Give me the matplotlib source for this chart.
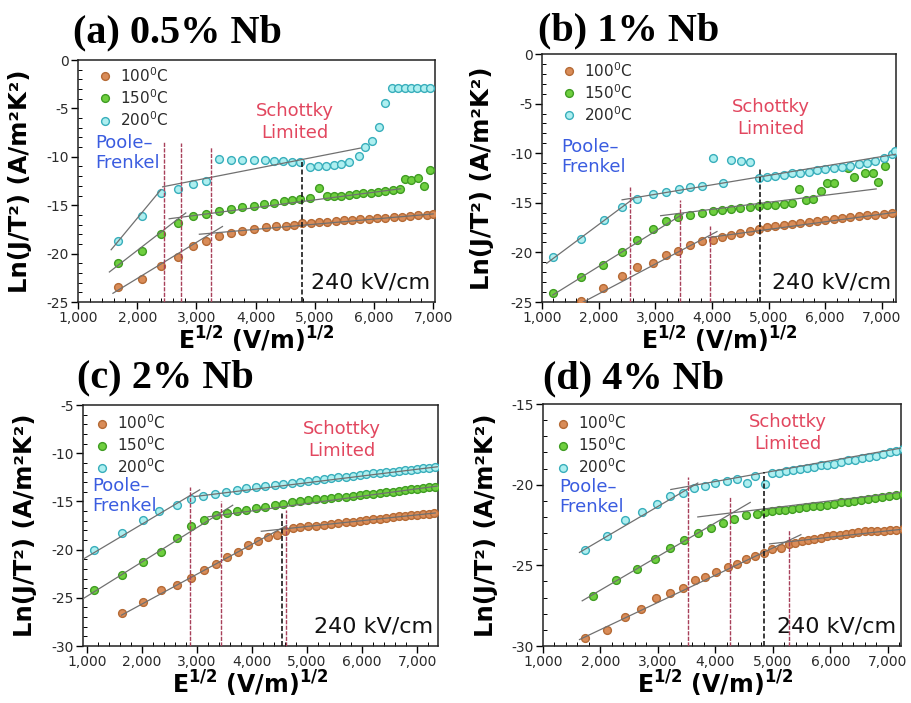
import matplotlib
matplotlib.use('Agg')
import matplotlib.pyplot as plt
from matplotlib.ticker import MultipleLocator, FuncFormatter

plt.rcParams['font.family'] = ['DejaVu Sans']
plt.rcParams['axes.unicode_minus'] = False
plt.rcParams['mathtext.fontset'] = 'dejavusans'

# ---------------- data ----------------
series_labels = [r'100$^{0}$C', r'150$^{0}$C', r'200$^{0}$C']
panel_titles = ['(a) 0.5% Nb', '(b) 1% Nb', '(c) 2% Nb', '(d) 4% Nb']
x_ticks = [1000, 2000, 3000, 4000, 5000, 6000, 7000]

# (a) 0.5% Nb
a_x100 = [1673, 2077, 2402, 2683, 2935, 3170, 3384, 3591, 3776, 3972, 4169, 4337, 4505, 4645, 4786, 4930,
          5070, 5210, 5350, 5490, 5630, 5770, 5910, 6050, 6190, 6330, 6470, 6610, 6750, 6890, 6990]
a_y100 = [-23.5, -22.6, -21.3, -20.3, -19.2, -18.7, -18.2, -17.9, -17.7, -17.45, -17.3, -17.2, -17.1, -17.0,
          -16.85, -16.8, -16.75, -16.7, -16.6, -16.55, -16.5, -16.45, -16.4, -16.35, -16.3, -16.25, -16.2,
          -16.15, -16.05, -16.0, -15.95]
a_x150 = [1684, 2077, 2402, 2683, 2935, 3170, 3384, 3591, 3776, 3972, 4141, 4309, 4477, 4617, 4758, 4926,
          5067, 5207, 5330, 5450, 5575, 5700, 5820, 5945, 6070, 6190, 6315, 6440, 6524, 6630, 6748, 6849, 6944]
a_y150 = [-21.0, -19.7, -18.0, -16.8, -16.1, -15.9, -15.6, -15.4, -15.2, -15.05, -14.9, -14.75, -14.6, -14.5,
          -14.4, -14.3, -13.2, -14.1, -14.05, -14.0, -13.9, -13.85, -13.75, -13.7, -13.6, -13.5, -13.4, -13.3,
          -12.3, -12.4, -12.2, -13.0, -11.4]
a_x200 = [1673, 2077, 2402, 2683, 2935, 3170, 3384, 3591, 3776, 3972, 4152, 4309, 4466, 4617, 4758, 4927,
          5060, 5190, 5320, 5450, 5580, 5739, 5851, 5963, 6076, 6188, 6300, 6410, 6520, 6620, 6730, 6840, 6944]
a_y200 = [-18.7, -16.1, -13.7, -13.3, -12.8, -12.5, -10.2, -10.3, -10.3, -10.3, -10.35, -10.4, -10.45, -10.5,
          -10.55, -11.1, -11.0, -10.9, -10.8, -10.7, -10.5, -9.9, -9.0, -8.4, -6.9, -4.4, -2.85, -2.85, -2.85,
          -2.85, -2.85, -2.85, -2.85]
a_fit_x100 = [[1590, 3440], [3050, 7000]]
a_fit_y100 = [[-24.1, -17.2], [-18.0, -15.9]]
a_fit_x150 = [[1530, 2820], [2540, 6450]]
a_fit_y150 = [[-21.9, -15.8], [-16.4, -13.3]]
a_fit_x200 = [[1560, 2400], [2430, 5770]]
a_fit_y200 = [[-19.6, -13.4], [-13.1, -9.1]]
a_red_x = [2447, 2744, 3249]
a_red_top = [-8.4, -8.6, -9.0]
a_blk_x = [4786]
a_blk_top = [-10.4]

# (b) 1% Nb
b_x100 = [1692, 2077, 2414, 2686, 2953, 3189, 3408, 3615, 3822, 4018, 4178, 4337, 4503, 4669, 4828, 4975,
          5122, 5269, 5416, 5563, 5710, 5857, 6004, 6151, 6298, 6445, 6592, 6739, 6886, 7033, 7180]
b_y100 = [-24.9, -23.6, -22.4, -21.5, -21.1, -20.3, -19.9, -19.3, -18.9, -18.7, -18.4, -18.2, -18.0, -17.8,
          -17.6, -17.45, -17.35, -17.2, -17.1, -17.0, -16.9, -16.8, -16.7, -16.6, -16.5, -16.4, -16.35, -16.25,
          -16.2, -16.1, -16.05]
b_x150 = [1201, 1692, 2077, 2414, 2686, 2964, 3189, 3408, 3615, 3822, 4018, 4178, 4337, 4503, 4669, 4828,
          4975, 5122, 5269, 5416, 5538, 5657, 5793, 5923, 6030, 6160, 6396, 6503, 6704, 6840, 6941, 7047]
b_y150 = [-24.1, -22.5, -21.3, -20.0, -18.7, -17.6, -16.8, -16.4, -16.2, -16.0, -15.8, -15.7, -15.6, -15.5,
          -15.4, -15.3, -15.25, -15.2, -15.1, -15.05, -13.6, -14.7, -14.6, -13.8, -13.0, -13.0, -11.5, -12.4,
          -12.0, -12.0, -12.9, -11.3]
b_x200 = [1189, 1692, 2089, 2414, 2686, 2953, 3189, 3426, 3615, 3822, 4012, 4189, 4337, 4515, 4680, 4828,
          4975, 5122, 5269, 5416, 5563, 5710, 5857, 6004, 6151, 6298, 6445, 6592, 6739, 6886, 7033, 7180, 7240]
b_y200 = [-20.5, -18.6, -16.7, -15.4, -14.6, -14.1, -13.9, -13.6, -13.4, -13.3, -10.5, -13.0, -10.7, -10.8,
          -10.9, -12.5, -12.4, -12.3, -12.2, -12.0, -11.95, -11.85, -11.7, -11.6, -11.5, -11.4, -11.3, -11.1,
          -11.0, -10.8, -10.5, -10.1, -9.8]
b_fit_x100 = [[1663, 4089], [3940, 7250]]
b_fit_y100 = [[-25.2, -17.9], [-18.5, -15.95]]
b_fit_x150 = [[1189, 3497], [3095, 6900]]
b_fit_y150 = [[-24.3, -16.1], [-16.3, -13.6]]
b_fit_x200 = [[1083, 2609], [2414, 7250]]
b_fit_y200 = [[-21.1, -14.6], [-14.7, -10.1]]
b_red_x = [2550, 3438, 3959]
b_red_top = [-13.4, -14.7, -17.3]
b_blk_x = [4846]
b_blk_top = [-11.6]

# (c) 2% Nb
c_x100 = [1630, 2024, 2345, 2630, 2885, 3127, 3345, 3552, 3752, 3933, 4115, 4297, 4448, 4600, 4752, 4875,
          5020, 5160, 5300, 5435, 5570, 5700, 5830, 5955, 6080, 6200, 6320, 6440, 6555, 6670, 6785, 6895,
          7005, 7115, 7225, 7300]
c_y100 = [-26.6, -25.4, -24.2, -23.7, -22.9, -22.1, -21.5, -20.8, -20.2, -19.5, -19.1, -18.7, -18.5, -18.1,
          -17.8, -17.65, -17.55, -17.5, -17.4, -17.3, -17.25, -17.15, -17.1, -17.0, -16.95, -16.85, -16.8,
          -16.7, -16.65, -16.55, -16.5, -16.45, -16.4, -16.35, -16.3, -16.25]
c_x150 = [1133, 1630, 2024, 2345, 2630, 2885, 3127, 3345, 3539, 3733, 3900, 4075, 4245, 4410, 4570, 4725,
          4875, 5020, 5160, 5300, 5435, 5570, 5700, 5830, 5955, 6080, 6200, 6320, 6440, 6555, 6670, 6785,
          6895, 7005, 7115, 7225, 7330]
c_y150 = [-24.2, -22.6, -21.3, -20.2, -18.8, -17.6, -16.9, -16.4, -16.2, -16.0, -15.85, -15.7, -15.55, -15.4,
          -15.25, -15.1, -15.0, -14.9, -14.8, -14.7, -14.65, -14.55, -14.5, -14.4, -14.35, -14.25, -14.2,
          -14.1, -14.05, -14.0, -13.9, -13.85, -13.75, -13.7, -13.6, -13.55, -13.5]
c_x200 = [1133, 1630, 2024, 2315, 2630, 2885, 3115, 3327, 3527, 3721, 3900, 4075, 4245, 4410, 4570, 4725,
          4875, 5020, 5160, 5300, 5435, 5570, 5700, 5830, 5955, 6080, 6200, 6320, 6440, 6555, 6670, 6785,
          6895, 7005, 7115, 7225, 7330]
c_y200 = [-20.05, -18.3, -16.9, -16.0, -15.4, -14.8, -14.4, -14.2, -14.0, -13.8, -13.65, -13.5, -13.4, -13.3,
          -13.2, -13.05, -12.95, -12.85, -12.8, -12.7, -12.6, -12.5, -12.45, -12.35, -12.3, -12.2, -12.1,
          -12.05, -12.0, -11.9, -11.85, -11.75, -11.7, -11.6, -11.55, -11.5, -11.45]
c_fit_x100 = [[1630, 4630], [4170, 7330]]
c_fit_y100 = [[-26.8, -17.5], [-18.1, -16.2]]
c_fit_x150 = [[930, 3650], [3200, 7380]]
c_fit_y150 = [[-25.1, -15.4], [-16.6, -13.4]]
c_fit_x200 = [[930, 3050], [2950, 7380]]
c_fit_y200 = [[-21.0, -13.8], [-14.5, -11.4]]
c_red_x = [2878, 3431, 4613]
c_red_top = [-13.5, -15.0, -15.9]
c_blk_x = [4545]
c_blk_top = [-16.1]

# (d) 4% Nb
d_x100 = [1724, 2106, 2429, 2712, 2971, 3212, 3441, 3647, 3824, 4018, 4212, 4371, 4529, 4694, 4841, 4988,
          5135, 5282, 5390, 5500, 5610, 5720, 5830, 5940, 6050, 6160, 6270, 6380, 6490, 6600, 6710, 6820,
          6930, 7040, 7150, 7260]
d_y100 = [-29.5, -29.0, -28.2, -27.7, -27.0, -26.7, -26.4, -25.9, -25.7, -25.4, -25.1, -24.9, -24.6, -24.4,
          -24.25, -24.0, -23.9, -23.7, -23.6, -23.5, -23.4, -23.35, -23.3, -23.2, -23.15, -23.1, -23.05, -23.0,
          -22.95, -22.9, -22.9, -22.85, -22.85, -22.8, -22.8, -22.75]
d_x150 = [1871, 2271, 2635, 2941, 3212, 3459, 3706, 3929, 4135, 4329, 4529, 4724, 4859, 4980, 5100, 5220,
          5340, 5460, 5580, 5700, 5820, 5940, 6060, 6180, 6300, 6420, 6540, 6660, 6780, 6900, 7020, 7140, 7260]
d_y150 = [-26.9, -25.9, -25.2, -24.6, -23.9, -23.4, -23.0, -22.7, -22.4, -22.1, -21.9, -21.8, -21.7, -21.65,
          -21.6, -21.55, -21.5, -21.45, -21.4, -21.35, -21.3, -21.25, -21.2, -21.1, -21.05, -21.0, -20.95,
          -20.9, -20.8, -20.75, -20.7, -20.65, -20.6]
d_x200 = [1724, 2118, 2429, 2724, 2976, 3212, 3441, 3635, 3824, 4000, 4194, 4371, 4547, 4694, 4859, 4988,
          5110, 5230, 5350, 5470, 5590, 5710, 5830, 5950, 6070, 6190, 6310, 6430, 6550, 6670, 6790, 6910,
          7030, 7150, 7270]
d_y200 = [-24.05, -23.2, -22.2, -21.7, -21.2, -20.7, -20.5, -20.2, -20.1, -19.9, -19.8, -19.65, -19.9, -19.45,
          -19.95, -19.3, -19.25, -19.15, -19.1, -19.0, -18.95, -18.9, -18.8, -18.75, -18.7, -18.6, -18.5,
          -18.45, -18.35, -18.3, -18.2, -18.1, -18.0, -17.9, -17.8]
d_fit_x100 = [[1635, 5488], [4941, 7282]]
d_fit_y100 = [[-29.6, -23.1], [-23.67, -22.75]]
d_fit_x150 = [[1682, 4606], [3694, 7282]]
d_fit_y150 = [[-27.2, -21.1], [-22.0, -20.45]]
d_fit_x200 = [[1635, 3694], [3224, 7282]]
d_fit_y200 = [[-24.2, -19.9], [-20.3, -17.7]]
d_red_x = [3518, 4253, 5282]
d_red_top = [-19.5, -20.7, -22.8]
d_blk_x = [4853]
d_blk_top = [-19.2]

# ---------------- style ----------------
FACE = ['#d98c58', '#6fcf3f', '#aeeff0']
EDGE = ['#b56a35', '#3f9c22', '#38aebb']
FIT_COLOR = '#707070'
RED_V = '#a8405a'
PF_COLOR = '#3a5ce0'
SCH_COLOR = '#e2475f'

fig = plt.figure(figsize=(9.12, 7.03), dpi=100)

panels = [
    dict(rect=[78/912, 1-302/703, 357/912, 242/703], xlim=(1000, 7030), ylim=(-25, 0), yt=[0, -5, -10, -15, -20, -25],
         xs=[a_x100, a_x150, a_x200], ys=[a_y100, a_y150, a_y200],
         fx=[a_fit_x100, a_fit_x150, a_fit_x200], fy=[a_fit_y100, a_fit_y150, a_fit_y200],
         rx=a_red_x, rt=a_red_top, bx=a_blk_x, bt=a_blk_top,
         title=(73/912, 1-42/703), leg=(0.054, 0.975), pf=(0.048, 0.616), sch=(0.608, 0.744),
         ylab=(-0.13, 0.5), xlab=(0.5, -0.095)),
    dict(rect=[542/912, 1-302/703, 354/912, 248/703], xlim=(1000, 7250), ylim=(-25, 0), yt=[0, -5, -10, -15, -20, -25],
         xs=[b_x100, b_x150, b_x200], ys=[b_y100, b_y150, b_y200],
         fx=[b_fit_x100, b_fit_x150, b_fit_x200], fy=[b_fit_y100, b_fit_y150, b_fit_y200],
         rx=b_red_x, rt=b_red_top, bx=b_blk_x, bt=b_blk_top,
         title=(538/912, 1-40/703), leg=(0.054, 0.972), pf=(0.054, 0.585), sch=(0.647, 0.742),
         ylab=(-0.135, 0.5), xlab=(0.5, -0.093)),
    dict(rect=[83/912, 1-646/703, 355/912, 241/703], xlim=(930, 7380), ylim=(-30, -5), yt=[-5, -10, -15, -20, -25, -30],
         xs=[c_x100, c_x150, c_x200], ys=[c_y100, c_y150, c_y200],
         fx=[c_fit_x100, c_fit_x150, c_fit_x200], fy=[c_fit_y100, c_fit_y150, c_fit_y200],
         rx=c_red_x, rt=c_red_top, bx=c_blk_x, bt=c_blk_top,
         title=(77/912, 1-387/703), leg=(0.031, 0.965), pf=(0.025, 0.622), sch=(0.73, 0.855),
         ylab=(-0.13, 0.5), xlab=(0.47, -0.095)),
    dict(rect=[543/912, 1-646/703, 358/912, 242/703], xlim=(1000, 7230), ylim=(-30, -15), yt=[-15, -20, -25, -30],
         xs=[d_x100, d_x150, d_x200], ys=[d_y100, d_y150, d_y200],
         fx=[d_fit_x100, d_fit_x150, d_fit_x200], fy=[d_fit_y100, d_fit_y150, d_fit_y200],
         rx=d_red_x, rt=d_red_top, bx=d_blk_x, bt=d_blk_top,
         title=(543/912, 1-388/703), leg=(0.034, 0.962), pf=(0.045, 0.616), sch=(0.684, 0.88),
         ylab=(-0.125, 0.5), xlab=(0.48, -0.095)),
]

for title, p in zip(panel_titles, panels):
    ax = fig.add_axes(p['rect'])
    ylow = p['ylim'][0]
    for xs, ys, fc, ec, lab in zip(p['xs'], p['ys'], FACE, EDGE, series_labels):
        ax.plot(xs, ys, 'o', ls='none', ms=5.6, mfc=fc, mec=ec, mew=1.0, label=lab, zorder=3)
    for fxs, fys in zip(p['fx'], p['fy']):
        for sx, sy in zip(fxs, fys):
            ax.plot(sx, sy, color=FIT_COLOR, lw=0.9, zorder=4)
    ax.vlines(p['rx'], ylow, p['rt'], colors=RED_V, linestyles=(0, (3, 1)), lw=1.0, zorder=5)
    ax.vlines(p['bx'], ylow, p['bt'], colors='#1a1a1a', linestyles=(0, (3, 1.5)), lw=1.2, zorder=5)

    ax.set_xlim(*p['xlim'])
    ax.set_ylim(*p['ylim'])
    ax.set_xticks(x_ticks)
    ax.set_yticks(p['yt'])
    ax.xaxis.set_major_formatter(FuncFormatter(lambda v, pos: f'{int(round(v)):,}'))
    ax.yaxis.set_major_formatter(FuncFormatter(lambda v, pos: f'{int(round(v))}'))
    ax.xaxis.set_minor_locator(MultipleLocator(200))
    ax.yaxis.set_minor_locator(MultipleLocator(1))
    ax.tick_params(which='major', direction='out', length=5, width=1.0, labelsize=10,
                   labelcolor='#2a2a2a', pad=1.5)
    ax.tick_params(which='minor', direction='in', length=3, width=0.7)
    for s in ax.spines.values():
        s.set_linewidth(1.1)
        s.set_color('#222222')

    ax.set_ylabel('Ln(J/T²) (A/m²K²)', fontsize=17.5, fontweight='bold')
    ax.yaxis.set_label_coords(*p['ylab'])
    ax.set_xlabel(r'E$^{\mathbf{1/2}}$ (V/m)$^{\mathbf{1/2}}$', fontsize=17, fontweight='bold')
    ax.xaxis.set_label_coords(*p['xlab'])

    leg = ax.legend(loc='upper left', bbox_to_anchor=p['leg'], frameon=False, fontsize=11,
                    handlelength=1.0, handletextpad=0.5, labelspacing=0.22, borderpad=0,
                    borderaxespad=0, numpoints=1)
    for t in leg.get_texts():
        t.set_color('#2a2a2a')

    ax.text(p['pf'][0], p['pf'][1], 'Poole–\nFrenkel', transform=ax.transAxes, color=PF_COLOR,
            fontsize=13, ha='left', va='center', linespacing=1.15)
    ax.text(p['sch'][0], p['sch'][1], 'Schottky\nLimited', transform=ax.transAxes, color=SCH_COLOR,
            fontsize=13, ha='center', va='center', linespacing=1.3)
    ax.text(0.985, 0.08, '240 kV/cm', transform=ax.transAxes, color='#111111', fontsize=16,
            ha='right', va='center')

    fig.text(p['title'][0], p['title'][1], title, family='Liberation Serif', fontweight='bold',
             fontsize=29, va='baseline', ha='left')

fig.savefig('out.png', dpi=100)
